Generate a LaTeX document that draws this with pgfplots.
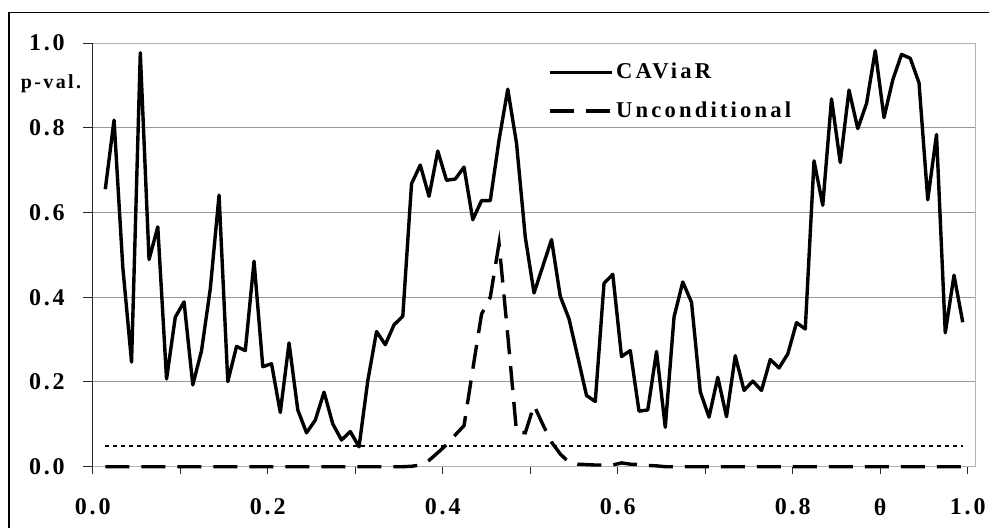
\documentclass[border=0pt]{standalone}
\usepackage{fontspec}
\setmainfont{Liberation Serif}
\newfontfamily\tickfont[LetterSpace=12]{Liberation Serif}
\newfontfamily\legfont[LetterSpace=14]{Liberation Serif}
\usepackage{pgfplots}
\pgfplotsset{compat=1.18}
\usepackage{pgfplotstable}

\pgfplotstableread{
i caviar uncond
1 0.655 0
2 0.818 0
3 0.471 0
4 0.247 0
5 0.977 0
6 0.489 0
7 0.566 0
8 0.207 0
9 0.353 0
10 0.389 0
11 0.193 0
12 0.274 0
13 0.420 0
14 0.641 0
15 0.201 0
16 0.284 0
17 0.274 0
18 0.485 0
19 0.236 0
20 0.243 0
21 0.128 0
22 0.292 0
23 0.134 0
24 0.080 0
25 0.110 0
26 0.176 0
27 0.101 0
28 0.063 0
29 0.083 0
30 0.047 0
31 0.203 0
32 0.319 0
33 0.288 0
34 0.335 0
35 0.355 0
36 0.668 0.001
37 0.712 0.004
38 0.638 0.015
39 0.745 0.033
40 0.676 0.052
41 0.679 0.075
42 0.707 0.097
43 0.583 0.230
44 0.628 0.360
45 0.628 0.400
46 0.771 0.527
47 0.891 0.310
48 0.763 0.082
49 0.542 0.080
50 0.410 0.145
51 0.473 0.100
52 0.536 0.058
53 0.402 0.030
54 0.349 0.010
55 0.259 0.006
56 0.168 0.005
57 0.154 0.004
58 0.433 0.004
59 0.454 0.004
60 0.260 0.009
61 0.274 0.006
62 0.131 0.005
63 0.134 0.003
64 0.272 0.002
65 0.093 0
66 0.353 0
67 0.436 0
68 0.388 0
69 0.177 0
70 0.117 0
71 0.211 0
72 0.118 0
73 0.262 0
74 0.180 0
75 0.202 0
76 0.180 0
77 0.253 0
78 0.233 0
79 0.266 0
80 0.340 0
81 0.325 0
82 0.722 0
83 0.617 0
84 0.868 0
85 0.718 0
86 0.889 0
87 0.798 0
88 0.857 0
89 0.982 0
90 0.824 0
91 0.913 0
92 0.973 0
93 0.964 0
94 0.906 0
95 0.630 0
96 0.784 0
97 0.316 0
98 0.452 0
99 0.341 0
}\datatable

\begin{document}
\begin{tikzpicture}[x=1pt,y=1pt]
\path[use as bounding box] (0,0) rectangle (494.5,263.5);
\draw[black, line width=0.7pt] (4.5,-10) -- (4.5,257.25) -- (510,257.25);
\begin{axis}[
  at={(46.35pt,30.15pt)}, anchor=south west,
  scale only axis, width=441.15pt, height=211.85pt,
  xmin=-0.44, xmax=100.4, ymin=0, ymax=1,
  xtick={-0.44,9.56,19.56,29.56,39.56,49.56,59.56,69.56,79.56,89.56,99.56},
  xticklabels={0.0,,0.2,,0.4,,0.6,,0.8,θ,1.0},
  ytick={0,0.2,0.4,0.6,0.8,1},
  yticklabels={0.0,0.2,0.4,0.6,0.8,1.0},
  ymajorgrids, grid style={gray!80, line width=0.5pt},
  axis line style={gray!60, line width=0.5pt},
  tick align=outside, xtick pos=left, ytick pos=left,
  tick style={black!85, line width=0.5pt},
  x tick style={/pgfplots/major tick length=3.75pt},
  y tick style={/pgfplots/major tick length=5pt},
  tick label style={font=\tickfont\bfseries\fontsize{12}{14}\selectfont, inner sep=0pt},
  xticklabel style={yshift=-11.5pt},
  yticklabel style={xshift=-9.5pt},
  clip=false,
  legend style={at={(axis cs:51.6,0.953)}, anchor=north west, draw=none, fill=none,
    inner sep=0pt, font=\legfont\bfseries\fontsize{11.3}{13}\selectfont,
    nodes={inner sep=0pt}, row sep=9.8pt, column sep=1.2pt, cells={anchor=west}},
  legend image code/.code={\draw[#1] (-1pt,0pt) -- (30pt,0pt);},
]
\addplot[black, line width=1.7pt, line join=round] table[x=i,y=caviar]{\datatable};
\addplot[black, line width=1.7pt, dash pattern=on 12pt off 6pt] table[x=i,y=uncond]{\datatable};
\addplot[black, line width=1pt, dash pattern=on 2pt off 2pt, forget plot] coordinates {(1,0.05) (99,0.05)};
\draw[black!85, line width=0.6pt] (rel axis cs:0,0) -- (rel axis cs:0,1);
\legend{CAViaR, Unconditional}
\end{axis}
\node[font=\tickfont\bfseries\fontsize{10}{12}\selectfont, inner sep=0pt] at (25.5,221.5) {p-val.};
\end{tikzpicture}
\end{document}
